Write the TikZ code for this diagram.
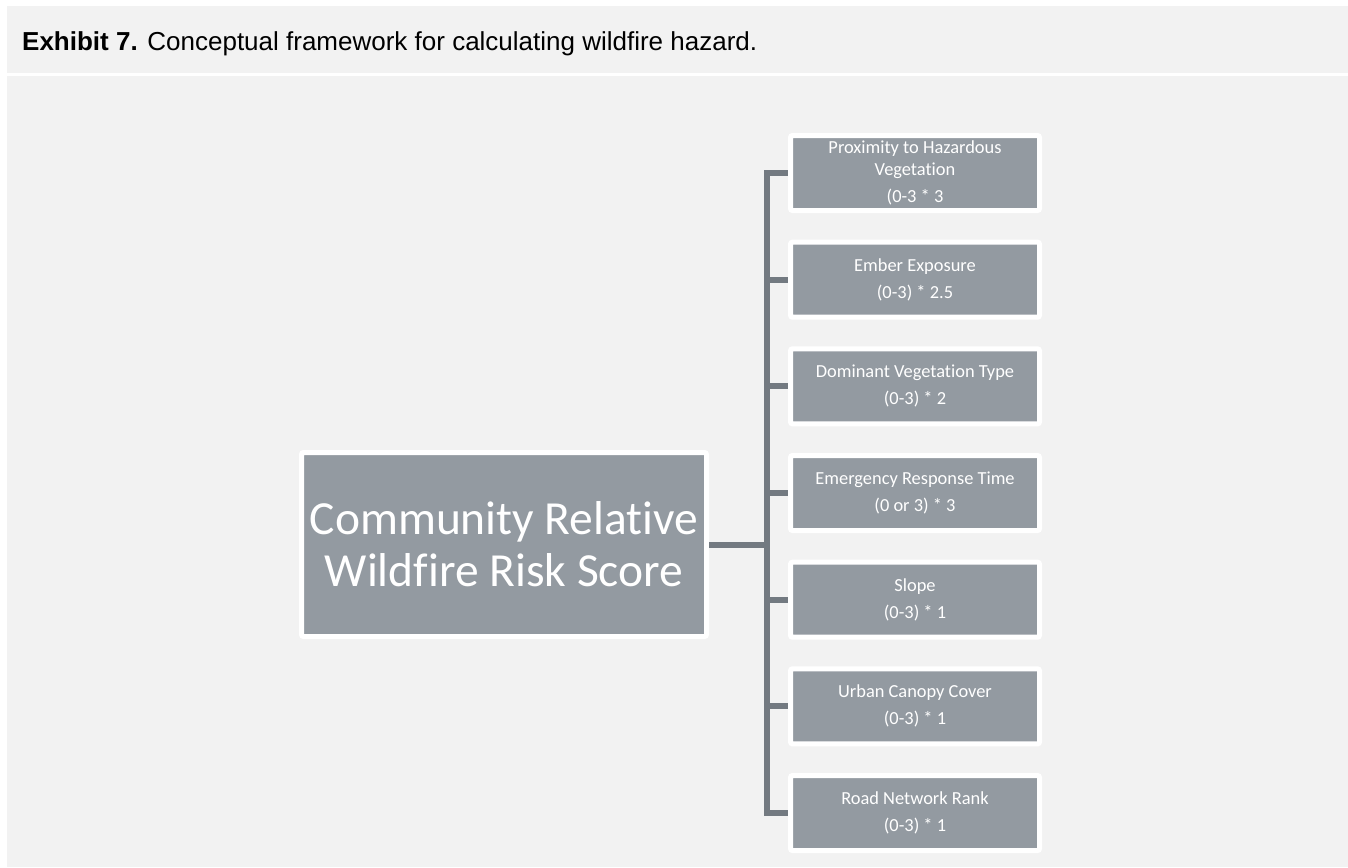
\documentclass[tikz,border=0pt]{standalone}
\usepackage{fontspec}
\setmainfont{Carlito}[Ligatures=NoCommon]
\newfontfamily\captionfont{Liberation Sans}
\usetikzlibrary{calc}

\definecolor{panelgray}{HTML}{F2F2F2}
\definecolor{boxgray}{HTML}{939AA1}
\definecolor{linkgray}{HTML}{737A81}

\begin{document}
\begin{tikzpicture}[x=1pt, y=-1pt,
    factor/.style={rectangle, rounded corners=2pt, fill=boxgray, draw=white, line width=5pt,
        text=white, minimum width=249pt, minimum height=75pt, inner sep=0pt, align=center,
        font=\fontsize{18.4}{22}\selectfont},
    link/.style={draw=linkgray, line width=6pt}]

    % page, caption panel and body panel
    \fill[white] (0,0) rectangle (1348,867);
    \useasboundingbox (0,0) rectangle (1348,867);
    \fill[panelgray] (7,6) rectangle (1348,73);
    \fill[panelgray] (7,76) rectangle (1348,867);

    % caption
    \node[anchor=base west, inner sep=0pt, font=\captionfont\fontsize{26}{30}\selectfont] (caption) at (22,51)
        {\textbf{Exhibit 7.} Conceptual framework for calculating wildfire hazard.};

    % overall score
    \node[factor, minimum width=405pt, minimum height=184pt, font=\fontsize{47.5}{52}\selectfont] (score) at (504,544.5)
        {Community Relative\\Wildfire Risk Score};

    % factor nodes
    \foreach \i/\txt in {1/{Proximity to Hazardous\\Vegetation\\[5pt](0-3 * 3},
                         2/{Ember Exposure\\[5pt](0-3) * 2.5},
                         3/{Dominant Vegetation Type\\[5pt](0-3) * 2},
                         4/{Emergency Response Time\\[5pt](0 or 3) * 3},
                         5/{Slope\\[5pt](0-3) * 1},
                         6/{Urban Canopy Cover\\[5pt](0-3) * 1},
                         7/{Road Network Rank\\[5pt](0-3) * 1}} {
        \node[factor] (f\i) at ($106.67*(0,\i) + (915,66.33)$) {\txt};
    }

    % tree connectors
    \coordinate (trunk) at (767,0);
    \foreach \i in {1,...,7} {
        \draw[link] (score.east) -- (score.east -| trunk) |- (f\i.west);
    }

\end{tikzpicture}
\end{document}
